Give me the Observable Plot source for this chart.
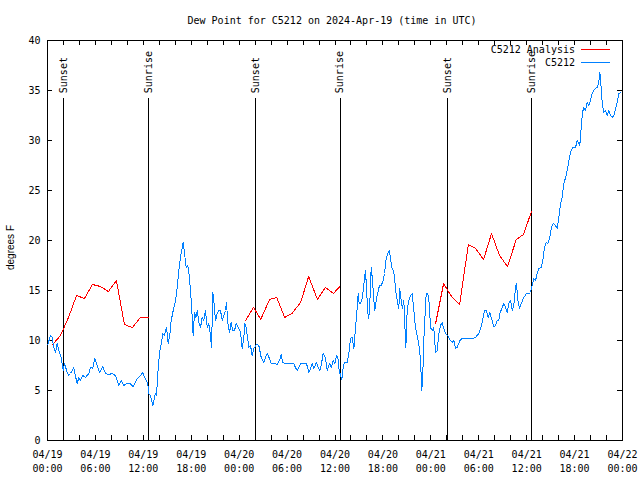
<!DOCTYPE html>
<html><head><meta charset="utf-8">
<script src="https://cdn.jsdelivr.net/npm/d3@7"></script>
<script src="https://cdn.jsdelivr.net/npm/@observablehq/plot@0.6"></script>
<style>
body{margin:0;background:#fff;}
svg{shape-rendering:crispEdges;}
</style>
</head><body>
<div id="chart"></div>
<script>
const title = "Dew Point for C5212 on 2024-Apr-19 (time in UTC)";
const yLabel = "degrees F";
const seriesNames = ["C5212 Analysis", "C5212"];
const seriesColors = ["#ff0000", "#0080ff"];
const startTime = "2024-04-19T00:00:00Z";
const endTime = "2024-04-22T00:00:00Z";
const yTicks = [0, 5, 10, 15, 20, 25, 30, 35, 40];
const eventLabels = ["Sunset", "Sunrise", "Sunset", "Sunrise", "Sunset", "Sunrise"];
const eventTimes = ["2024-04-19T02:00:00Z", "2024-04-19T12:40:00Z", "2024-04-20T02:03:00Z",
                    "2024-04-20T12:38:00Z", "2024-04-21T02:06:00Z", "2024-04-21T12:36:00Z"];

// C5212 Analysis: [hours since start, deg F]; null breaks the line
const analysisReadings = [
  [0.63,9.6],[1.63,10.5],[2.63,12.3],[3.63,14.5],[4.63,14.2],[5.63,15.6],[6.63,15.4],[7.63,14.9],
  [8.63,16.0],[9.63,11.6],[10.63,11.3],[11.63,12.3],[12.63,12.3],[13.0,null],
  [24.8,12.0],[25.8,13.3],[26.7,12.1],[27.8,14.1],[28.7,14.3],[29.7,12.3],[30.6,12.7],[31.7,13.8],
  [32.7,16.4],[33.8,14.1],[34.8,15.3],[35.8,14.7],[36.6,15.4],[37.0,null],
  [48.6,11.7],[49.6,15.7],[50.5,14.5],[51.6,13.6],[52.7,19.6],[53.6,19.2],[54.6,18.1],[55.6,20.7],
  [56.6,18.5],[57.6,17.4],[58.7,20.1],[59.6,20.6],[60.6,22.9]
];

// C5212 station: [hours since start, deg F]
const stationReadings = [
  [0.04,9.6],[0.38,10.5],[0.59,10.3],[0.79,9.3],[1.00,8.8],[1.21,9.7],[1.41,9.0],[1.72,8.3],[1.97,7.0],
  [2.13,7.7],[2.47,6.8],[2.67,6.5],[2.88,6.7],[3.29,7.3],[3.42,6.7],[3.72,5.7],[3.92,6.3],[4.13,6.0],
  [4.42,6.5],[4.76,6.3],[5.17,6.7],[5.38,7.3],[5.67,7.2],[5.92,8.2],[6.22,7.5],[6.51,6.8],[6.92,7.4],
  [7.26,6.7],[7.68,6.6],[8.10,6.7],[8.51,6.5],[8.93,5.5],[9.23,6.0],[9.55,5.5],[9.89,5.7],[10.31,5.7],
  [10.73,5.4],[11.23,6.2],[11.65,6.5],[11.93,6.8],[12.18,6.3],[12.56,5.7],[12.68,4.7],[12.90,4.5],
  [13.19,3.5],[13.31,4.0],[13.52,4.7],[13.65,4.5],[13.81,6.7],[14.02,8.7],[14.24,9.7],[14.44,10.7],
  [14.65,10.5],[14.78,11.0],[14.90,11.3],[15.11,9.7],[15.31,10.5],[15.49,12.0],[15.74,13.0],[16.03,14.0],
  [16.24,15.3],[16.44,17.0],[16.65,18.3],[16.87,19.3],[16.99,19.8],[17.16,18.7],[17.37,17.3],[17.57,17.5],
  [17.78,16.3],[17.99,14.0],[18.12,12.3],[18.24,10.5],[18.41,12.8],[18.57,12.3],[18.75,13.0],[18.95,11.8],
  [19.16,11.3],[19.37,12.3],[19.57,12.0],[19.78,13.0],[20.00,11.3],[20.20,11.7],[20.41,10.5],[20.54,9.3],
  [20.70,14.8],[20.82,14.0],[21.04,12.0],[21.25,12.7],[21.45,13.0],[21.66,13.0],[21.88,12.0],[22.08,12.5],
  [22.29,13.0],[22.41,13.8],[22.58,11.8],[22.79,10.8],[23.00,11.8],[23.20,11.0],[23.42,11.0],[23.63,11.7],
  [23.88,11.3],[24.08,11.0],[24.17,10.8],[24.38,9.2],[24.58,10.3],[24.71,11.7],[24.88,11.3],[25.01,10.5],
  [25.21,9.3],[25.42,9.5],[25.63,8.5],[25.83,9.2],[26.17,9.6],[26.46,9.5],[26.76,8.3],[27.08,7.8],
  [27.30,8.3],[27.51,8.7],[27.80,8.2],[28.01,7.7],[28.55,7.7],[28.76,7.6],[29.05,8.0],[29.26,8.6],
  [29.46,7.8],[29.80,7.7],[30.43,7.7],[30.84,7.7],[31.05,7.3],[31.27,7.0],[31.47,7.3],[31.68,7.7],
  [32.09,7.7],[32.43,7.7],[32.72,6.8],[32.93,7.2],[33.15,7.7],[33.35,7.2],[33.68,7.8],[33.90,7.3],
  [34.10,7.0],[34.31,7.7],[34.52,8.7],[34.81,8.3],[35.02,7.0],[35.31,7.7],[35.56,7.3],[35.78,8.0],
  [35.98,7.7],[36.19,8.5],[36.35,8.3],[36.53,7.0],[36.69,6.5],[36.85,6.1],[37.03,7.3],[37.19,7.8],
  [37.53,7.8],[37.73,8.7],[37.94,10.2],[38.16,10.3],[38.36,9.2],[38.57,11.3],[38.78,13.3],[38.91,14.7],
  [39.03,13.7],[39.19,13.7],[39.41,14.2],[39.53,15.0],[39.69,16.2],[39.82,17.0],[39.94,15.3],[40.11,12.8],
  [40.23,12.2],[40.36,13.7],[40.53,17.3],[40.70,16.0],[40.86,14.0],[40.99,13.0],[41.16,14.0],[41.36,14.8],
  [41.57,15.5],[41.79,15.5],[42.04,16.0],[42.20,16.7],[42.41,18.2],[42.61,18.7],[42.79,19.0],[42.95,18.3],
  [43.11,17.3],[43.29,17.0],[43.45,16.5],[43.58,15.0],[43.79,14.0],[43.99,13.2],[44.11,15.2],[44.29,14.0],
  [44.45,13.2],[44.62,14.0],[44.79,10.7],[44.87,9.3],[45.04,13.0],[45.24,14.0],[45.45,14.5],[45.67,14.7],
  [45.87,13.0],[46.08,11.3],[46.29,10.5],[46.49,9.7],[46.71,8.0],[46.87,5.0],[46.99,6.5],[47.12,10.0],
  [47.24,12.0],[47.42,14.7],[47.62,14.7],[47.80,13.7],[47.96,11.3],[48.17,11.0],[48.37,11.3],[48.59,8.8],
  [48.80,9.0],[49.00,10.7],[49.21,11.5],[49.42,11.8],[49.62,11.2],[49.84,10.7],[50.13,10.5],[50.46,10.0],
  [50.68,9.8],[50.88,10.0],[51.09,9.2],[51.30,9.3],[51.63,10.0],[51.93,10.2],[52.55,10.2],[53.18,10.2],
  [53.59,10.3],[54.01,10.7],[54.22,11.2],[54.43,11.8],[54.72,13.0],[54.97,13.0],[55.18,12.3],[55.38,12.8],
  [55.60,12.2],[55.89,11.4],[56.10,11.5],[56.31,12.0],[56.51,12.0],[56.64,12.7],[56.94,13.3],[57.14,13.7],
  [57.35,13.3],[57.56,12.8],[57.76,13.7],[57.98,14.0],[58.19,13.0],[58.39,13.5],[58.60,15.3],[58.73,15.7],
  [58.89,14.0],[59.10,13.2],[59.32,13.7],[59.64,14.3],[59.98,14.7],[60.27,14.7],[60.48,14.8],[60.69,15.5],
  [60.89,16.2],[61.11,16.0],[61.32,16.7],[61.52,17.2],[61.82,17.3],[62.07,18.2],[62.23,19.3],[62.45,19.8],
  [62.65,19.7],[62.90,20.3],[63.11,21.3],[63.32,21.7],[63.61,21.5],[63.82,21.2],[64.03,22.3],[64.24,23.7],
  [64.45,24.3],[64.65,25.7],[64.95,26.5],[65.15,27.3],[65.36,28.3],[65.58,29.0],[65.78,29.3],[66.12,29.3],
  [66.33,30.0],[66.53,29.7],[66.65,29.5],[66.83,31.3],[66.99,32.8],[67.16,33.3],[67.37,33.0],[67.58,33.8],
  [67.78,33.5],[67.99,34.0],[68.20,34.7],[68.41,35.0],[68.62,35.2],[68.83,35.3],[69.03,35.8],[69.16,36.8],
  [69.28,35.8],[69.46,33.8],[69.66,32.8],[69.87,33.0],[70.08,32.5],[70.29,33.0],[70.50,32.5],[70.71,32.3],
  [70.91,32.5],[71.13,33.2],[71.33,33.8],[71.54,34.7],[71.75,34.8]
];

const mono = "'DejaVu Sans Mono', monospace";
const t0 = new Date(startTime), t1 = new Date(endTime);
const toDate = h => new Date(t0.getTime() + h * 3600000);
const analysis = analysisReadings.map(([h, v]) => ({time: toDate(h), value: v}));
const station = stationReadings.map(([h, v]) => ({time: toDate(h), value: v}));
const events = eventLabels.map((label, i) => ({label, time: new Date(eventTimes[i])}));
const majorTicks = d3.utcHour.every(6).range(t0, new Date(t1.getTime() + 1));
const minorTicks = d3.utcHour.every(2).range(t0, new Date(t1.getTime() + 1));
const fmtDay = d3.utcFormat("%m/%d"), fmtTime = d3.utcFormat("%H:%M");

function legend(index, scales, values, dims) {
  const g = d3.create("svg:g").attr("font-family", mono).attr("font-size", 10);
  const xr = dims.width - dims.marginRight;
  seriesNames.forEach((name, i) => {
    const y = dims.marginTop + 9.5 + i * 13;
    g.append("text").attr("x", xr - 47).attr("y", y).attr("dy", "0.32em")
      .attr("text-anchor", "end").attr("fill", "black").text(name);
    g.append("line").attr("x1", xr - 41).attr("x2", xr - 12).attr("y1", y).attr("y2", y)
      .attr("stroke", seriesColors[i]).attr("stroke-width", 1);
  });
  return g.node();
}

const chart = Plot.plot({
  width: 640,
  height: 480,
  marginTop: 40,
  marginBottom: 40,
  marginLeft: 47,
  marginRight: 18,
  style: {fontFamily: mono, fontSize: "10px", background: "white", color: "black"},
  x: {type: "utc", domain: [t0, t1]},
  y: {domain: [0, 40]},
  marks: [
    Plot.frame({stroke: "black"}),
    Plot.tickX(minorTicks, {x: d => d, insetTop: 395, stroke: "black"}),
    Plot.tickX(minorTicks, {x: d => d, insetBottom: 395, stroke: "black"}),
    Plot.tickY(yTicks, {y: d => d, insetRight: 570, stroke: "black"}),
    Plot.tickY(yTicks, {y: d => d, insetLeft: 570, stroke: "black"}),
    Plot.axisY({ticks: yTicks, tickSize: 0, tickPadding: 7, label: null, fontFamily: mono, fontSize: 10}),
    Plot.axisX({ticks: majorTicks, tickSize: 0, tickPadding: 7, label: null, lineHeight: 1.45,
      tickFormat: d => fmtDay(d) + "\n" + fmtTime(d), fontFamily: mono, fontSize: 10}),
    Plot.ruleX(events, {x: "time", y1: () => 0, y2: () => 34.2, stroke: "black"}),
    Plot.text(events, {x: "time", y: () => 34.73, text: "label", rotate: -90, textAnchor: "start",
      lineAnchor: "middle", fontFamily: mono, fontSize: 10, fill: "black"}),
    Plot.line(analysis, {x: "time", y: "value", stroke: seriesColors[0], strokeWidth: 1, curve: "linear"}),
    Plot.line(station, {x: "time", y: "value", stroke: seriesColors[1], strokeWidth: 1, curve: "linear"}),
    Plot.text([title], {text: d => d, frameAnchor: "top", textAnchor: "middle", lineAnchor: "middle", dy: -20, dx: -3,
      fontFamily: mono, fontSize: 10, fill: "black"}),
    Plot.text([yLabel], {text: d => d, frameAnchor: "left", textAnchor: "middle", lineAnchor: "middle",
      rotate: -90, dx: -37, dy: 7,
      fontFamily: "'Liberation Sans', Arial, sans-serif", fontSize: 10, fill: "black"}),
    legend
  ]
});
document.getElementById("chart").appendChild(chart);
</script>
</body></html>
